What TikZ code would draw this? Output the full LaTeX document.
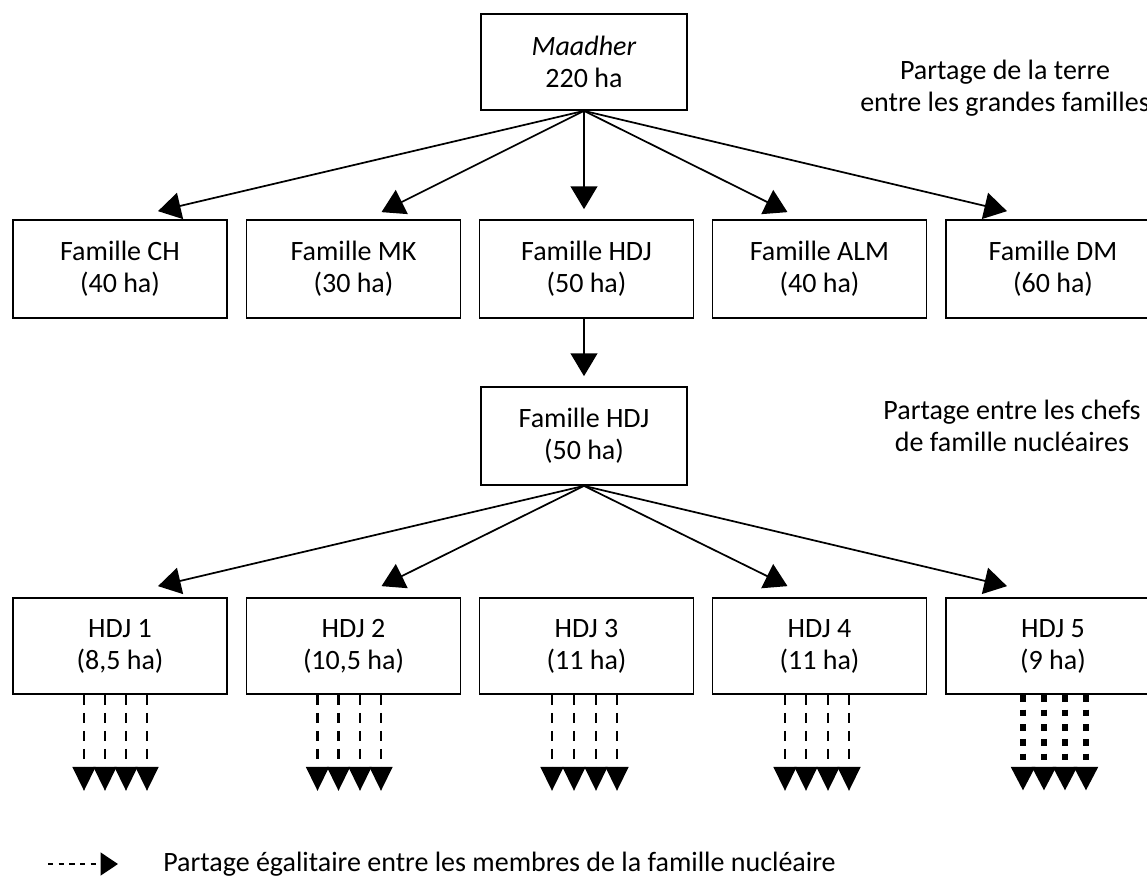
\documentclass[tikz,border=0pt]{standalone}
\usepackage{fontspec}
\setmainfont{Carlito}
\usetikzlibrary{arrows.meta,calc}
\begin{document}
\begin{tikzpicture}[x=0.75pt,y=-0.75pt,
  txt/.style={font=\fontsize{21}{24}\selectfont},
  box/.style={txt, draw, line width=1.3pt, minimum width=160.5pt, minimum height=73.5pt, align=center, inner sep=0pt},
  lowbox/.style={box, minimum height=72pt},
  arr/.style={line width=1.3pt, -{Triangle[length=17pt,width=20pt]}},
  dasharr/.style={line width=2pt, dash pattern=on 7.5pt off 6pt, -{Triangle[length=18pt,width=17pt]}},
  dotarr/.style={line width=5pt, dash pattern=on 5pt off 6pt, -{Triangle[length=18pt,width=17pt]}},
  legarr/.style={line width=1.5pt, dash pattern=on 4pt off 4pt, -{Triangle[length=13pt,width=17pt]}},
  note/.style={txt, align=center}
]
\useasboundingbox (0,0) rectangle (1147,883);

% top
\node[box, minimum width=154.5pt, minimum height=72pt] (m) at (584,62) {\textit{Maadher}\\220 ha};
\node[note] (n1) at (1005,88) {Partage de la terre\\entre les grandes familles};

% families
\node[box] (c1) at (120,269) {Famille CH\\(40 ha)};
\node[box] (c2) at (353.5,269) {Famille MK\\(30 ha)};
\node[box] (c3) at (586.5,269) {Famille HDJ\\(50 ha)};
\node[box] (c4) at (819.5,269) {Famille ALM\\(40 ha)};
\node[box] (c5) at (1053,269) {Famille DM\\(60 ha)};

\draw[arr] (m.south) -- ([shift={(38,-8)}]c1.north);
\draw[arr] (m.south) -- ([shift={(28,-7)}]c2.north);
\draw[arr] (m.south) -- ([yshift=7.5pt]m.south |- c3.north);
\draw[arr] (m.south) -- ([shift={(-32,-7)}]c4.north);
\draw[arr] (m.south) -- ([shift={(-46,-8)}]c5.north);

% middle
\node[box, minimum width=154.5pt] (h) at (584,436) {Famille HDJ\\(50 ha)};
\node[note] (n2) at (1012,426) {Partage entre les chefs\\de famille nucléaires};
\draw[arr] (m.south |- c3.south) -- ([yshift=7.5pt]h.north);

% nuclear families
\node[lowbox] (d1) at (120,646) {HDJ 1\\(8,5 ha)};
\node[lowbox] (d2) at (353.5,646) {HDJ 2\\(10,5 ha)};
\node[lowbox] (d3) at (586.5,646) {HDJ 3\\(11 ha)};
\node[lowbox] (d4) at (819.5,646) {HDJ 4\\(11 ha)};
\node[lowbox] (d5) at (1053,646) {HDJ 5\\(9 ha)};

\draw[arr] (h.south) -- ([shift={(38,-11)}]d1.north);
\draw[arr] (h.south) -- ([shift={(28,-11)}]d2.north);
\draw[arr] (h.south) -- ([shift={(-32,-11)}]d4.north);
\draw[arr] (h.south) -- ([shift={(-46,-11)}]d5.north);

% equal sharing arrows
\foreach \b/\o in {d1/-36,d1/-15,d1/6,d1/27,
                   d2/-36,d2/-15,d2/6.5,d2/27.5,
                   d3/-34.5,d3/-12.5,d3/9.5,d3/30.5,
                   d4/-34.5,d4/-13.5,d4/8.5,d4/29.5}{
  \draw[dasharr] ([xshift=\o*0.75pt]\b.south) -- ([shift={(\o,96)}]\b.south);
}
\foreach \o in {-30,-9,12,33}{
  \draw[dotarr] ([xshift=\o*0.75pt]d5.south) -- ([shift={(\o,96)}]d5.south);
}

% legend
\coordinate (l0) at (48,864);
\coordinate (l1) at (118,864);
\draw[legarr] (l0) -- (l1);
\node[txt, anchor=west, inner sep=0pt] (lt) at (163,864) {Partage égalitaire entre les membres de la famille nucléaire};
\end{tikzpicture}
\end{document}
